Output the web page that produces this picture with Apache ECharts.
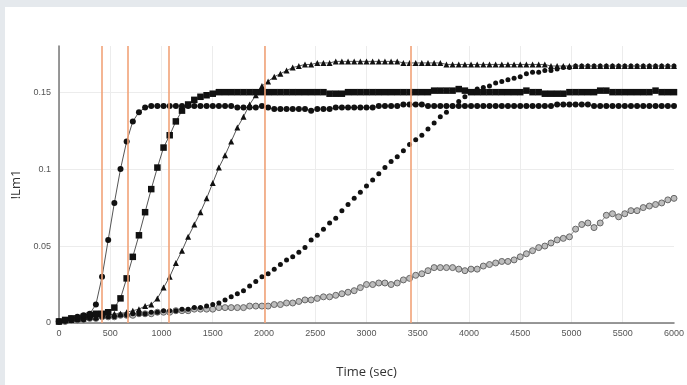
<!DOCTYPE html>
<html>
<head>
<meta charset="utf-8">
<script src="https://cdn.jsdelivr.net/npm/echarts@6/dist/echarts.min.js"></script>
<style>
html,body{margin:0;padding:0;background:#e5e9ed;width:687px;height:385px;overflow:hidden;}
#panel{position:absolute;left:5px;top:7px;width:682px;height:378px;background:#fff;}
#chart{position:absolute;left:0;top:0;width:687px;height:385px;}
</style>
</head>
<body>
<div id="panel"></div>
<div id="chart"></div>
<script>
const times = [0,60,120,180,240,300,360,420,480,540,600,660,720,780,840,900,960,1020,1080,1140,1200,1260,1320,1380,1440,1500,1560,1620,1680,1740,1800,1860,1920,1980,2040,2100,2160,2220,2280,2340,2400,2460,2520,2580,2640,2700,2760,2820,2880,2940,3000,3060,3120,3180,3240,3300,3360,3420,3480,3540,3600,3660,3720,3780,3840,3900,3960,4020,4080,4140,4200,4260,4320,4380,4440,4500,4560,4620,4680,4740,4800,4860,4920,4980,5040,5100,5160,5220,5280,5340,5400,5460,5520,5580,5640,5700,5760,5820,5880,5940,6000];

const circles = [0.001,0.002,0.003,0.004,0.005,0.006,0.012,0.030,0.054,0.078,0.100,0.118,0.131,0.137,0.140,
0.141,0.141,0.141,0.141,0.141,0.141,0.141,0.141,0.141,0.141,0.141,0.141,0.141,0.141,0.140,0.140,
0.140,0.140,0.141,0.140,0.139,0.139,0.139,0.139,0.139,0.139,0.138,0.139,0.139,0.139,0.140,
0.140,0.140,0.140,0.140,0.140,0.140,0.141,0.141,0.141,0.141,0.142,0.142,0.142,0.142,0.141,
0.141,0.141,0.141,0.141,0.141,0.141,0.141,0.141,0.141,0.141,0.141,0.141,0.141,0.141,0.141,
0.141,0.141,0.141,0.141,0.141,0.142,0.142,0.142,0.142,0.142,0.142,0.141,0.141,0.141,0.141,0.141,0.141,0.141,0.141,0.141,0.141,0.141,0.141,0.141,0.141];

const squares = [0.001,0.002,0.003,0.003,0.004,0.005,0.006,0.006,0.007,0.010,0.016,0.029,0.043,0.057,0.072,0.087,0.101,0.114,0.122,0.131,0.138,0.142,0.145,0.147,0.148,0.149,0.150,
0.150,0.150,0.150,0.150,0.150,0.150,0.150,0.150,0.150,0.150,0.150,0.150,0.150,0.150,
0.150,0.150,0.150,0.149,0.149,0.149,0.150,0.150,0.150,0.150,0.150,0.150,0.150,0.150,0.150,
0.150,0.150,0.150,0.150,0.150,0.151,0.151,0.151,0.151,0.152,0.151,0.150,0.150,0.150,0.150,
0.150,0.150,0.150,0.150,0.150,0.151,0.150,0.150,0.149,0.149,0.149,0.149,0.150,0.150,0.150,
0.150,0.150,0.151,0.151,0.150,0.150,0.150,0.150,0.150,0.150,0.150,0.151,0.150,0.150,0.150];

const triangles = [0.001,0.002,0.002,0.003,0.003,0.004,0.004,0.005,0.005,0.006,0.006,0.007,0.008,0.009,0.011,
0.012,0.016,0.023,0.030,0.039,0.047,0.056,0.064,0.072,0.081,0.091,0.101,0.109,0.118,0.127,0.134,0.142,0.148,0.154,0.157,0.160,0.162,0.164,0.166,0.167,0.168,0.168,0.169,
0.169,0.169,0.170,0.170,0.170,0.170,0.170,0.170,0.170,0.170,0.170,0.170,0.170,0.169,0.169,
0.169,0.169,0.169,0.169,0.169,0.168,0.168,0.168,0.168,0.168,0.168,0.168,0.168,0.168,0.168,
0.168,0.168,0.168,0.168,0.168,0.168,0.168,0.167,0.167,0.167,0.167,0.167,0.167,0.167,0.167,
0.167,0.167,0.167,0.167,0.167,0.167,0.167,0.167,0.167,0.167,0.167,0.167,0.167];

const dots = [0.001,0.001,0.002,0.002,0.002,0.003,0.003,0.004,0.004,0.004,0.005,0.005,0.006,0.006,0.006,0.007,0.007,0.008,0.008,0.008,0.009,0.009,0.010,0.010,
0.011,0.012,0.013,0.015,0.017,0.019,0.021,0.024,0.027,0.030,0.032,0.035,0.038,0.041,0.043,0.046,0.049,0.054,0.057,0.061,0.065,0.068,0.073,0.077,0.081,0.085,
0.089,0.093,0.097,0.101,0.105,0.108,0.112,0.116,0.119,0.122,0.126,0.130,0.134,0.137,0.141,0.144,0.147,0.150,0.152,0.153,0.154,0.156,0.157,0.158,0.159,0.160,
0.162,0.163,0.163,0.164,0.164,0.165,0.166,0.166,
0.167,0.167,0.167,0.167,0.167,0.167,0.167,0.167,0.167,0.167,0.167,0.167,0.167,0.167,0.167,0.167,0.167];

const openCircles = [0.001,0.001,0.002,0.002,0.003,0.003,0.003,0.004,0.004,0.004,0.005,0.005,0.005,0.006,0.006,0.006,0.007,0.007,0.007,0.008,0.008,
0.008,0.009,0.009,0.009,0.009,0.010,0.010,0.010,0.010,0.010,0.011,0.011,0.011,
0.011,0.012,0.012,0.013,0.013,0.014,0.015,0.015,0.016,0.017,0.017,0.018,0.019,0.020,
0.021,0.023,0.025,0.025,0.026,0.026,0.025,0.026,0.028,0.029,0.031,0.032,0.034,0.036,0.036,0.036,0.036,0.035,0.034,0.035,0.035,0.037,0.038,0.039,0.040,0.040,0.041,
0.043,0.045,0.047,0.049,0.050,0.052,0.054,0.055,0.056,0.061,0.064,0.065,0.062,0.065,0.070,0.071,0.069,0.071,0.073,0.073,0.075,0.076,0.077,0.078,0.080,0.081];

const markerTimes = [420, 670, 1075, 2005, 3435];
const xTicks = {min: 0, max: 6000, step: 500};
const yTicks = {min: 0, max: 0.18, step: 0.05};

function pairs(arr){ return arr.map((v,i)=>[times[i], v]); }

const chart = echarts.init(document.getElementById('chart'), null, {renderer:'canvas'});
const lineCol = '#555';
const markCol = '#111';
chart.setOption({
  backgroundColor: 'transparent',
  animation: false,
  grid: {left: 59, right: 11, top: 46, bottom: 62},
  xAxis: {
    type: 'value', min: xTicks.min, max: xTicks.max, interval: xTicks.step,
    name: 'Time (sec)', nameLocation: 'middle', nameGap: 43,
    nameTextStyle: {fontFamily: 'Open Sans', fontSize: 13, color: '#333'},
    axisLine: {lineStyle: {color: '#777', width: 1.5}},
    axisTick: {show: false},
    axisLabel: {fontFamily: 'Liberation Sans', fontSize: 9, color: '#555', margin: 6,
      formatter: v => String(v)},
    splitLine: {show: true, showMaxLine: false, lineStyle: {color: '#ececec', width: 1}}
  },
  yAxis: {
    type: 'value', min: yTicks.min, max: yTicks.max, interval: yTicks.step,
    name: '!Lm1', nameLocation: 'middle', nameGap: 32, nameRotate: 90,
    nameTextStyle: {fontFamily: 'Open Sans', fontSize: 13, color: '#333'},
    axisLine: {show: true, lineStyle: {color: '#777', width: 1.5}},
    axisTick: {show: false},
    axisLabel: {fontFamily: 'Liberation Sans', fontSize: 9, color: '#555', margin: 8,
      formatter: v => (v > 0.16 ? '' : String(+v.toFixed(2)))},
    splitLine: {show: true, showMaxLine: false, lineStyle: {color: '#ececec', width: 1}}
  },
  series: [
    {type:'line', data: pairs(openCircles), symbol:'circle', symbolSize:6, z:2,
     itemStyle:{color:'#bdbdbd', borderColor:'#666', borderWidth:1},
     lineStyle:{color:'#888', width:1},
     markLine: {silent:true, symbol:['none','none'], label:{show:false},
       lineStyle:{color:'#f2a378', width:1.6, type:'solid'},
       data: markerTimes.map(t=>({xAxis:t}))}},
    {type:'line', data: pairs(dots), symbol:'circle', symbolSize:5, z:3,
     itemStyle:{color:markCol, borderWidth:0}, lineStyle:{width:0, opacity:0}},
    {type:'line', data: pairs(triangles), symbol:'triangle', symbolSize:6, z:4,
     itemStyle:{color:markCol, borderWidth:0}, lineStyle:{color:lineCol, width:1}},
    {type:'line', data: pairs(squares), symbol:'rect', symbolSize:6.5, z:4,
     itemStyle:{color:markCol, borderWidth:0}, lineStyle:{color:lineCol, width:1}},
    {type:'line', data: pairs(circles), symbol:'circle', symbolSize:6, z:4,
     itemStyle:{color:markCol, borderWidth:0}, lineStyle:{color:lineCol, width:1}}
  ]
});
</script>
</body>
</html>
